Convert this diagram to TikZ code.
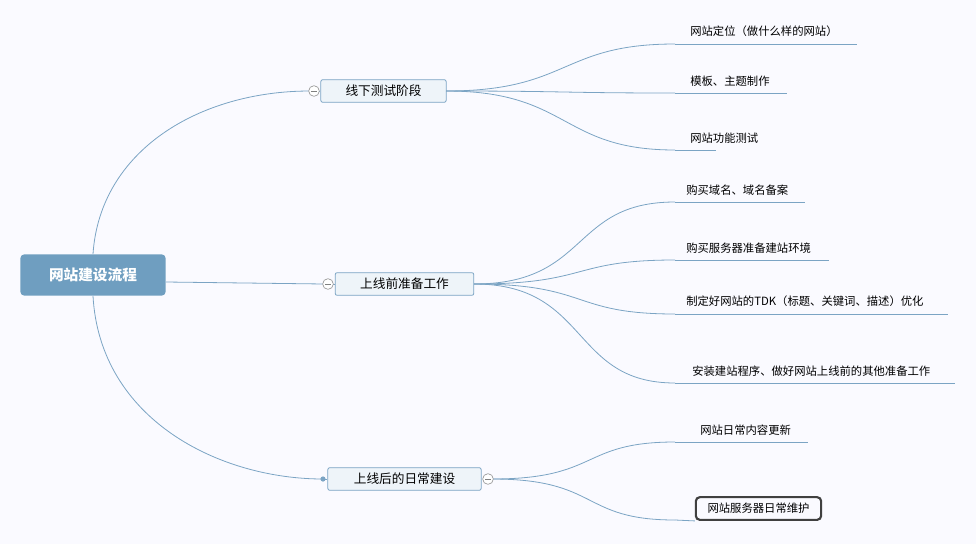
\documentclass[tikz,border=0pt]{standalone}
\usepackage{fontspec}
\setmainfont{Noto Sans CJK SC}
\begin{document}
\begin{tikzpicture}[x=0.75pt,y=-0.75pt,
  ln/.style={draw=lnc,line width=0.6pt},
  br/.style={draw=lnc,fill=brf,rounded corners=1.5pt,minimum height=17pt,inner xsep=0pt,font=\fontsize{9.5}{11}\selectfont,line width=0.6pt},
  lf/.style={anchor=south west,inner sep=0pt,font=\fontsize{8.5}{10}\selectfont,yshift=5pt},
  tg/.style={circle,draw=gray!80,fill=white,minimum size=8pt,inner sep=0pt,line width=0.5pt}]
\definecolor{lnc}{HTML}{7BA4C4}
\definecolor{brf}{HTML}{EEF4F9}
\definecolor{rootc}{HTML}{6F9EC0}
\fill[fill=white!98!blue] (0,0) rectangle (976,544);
\useasboundingbox (0,0) rectangle (976,544);
% root
\node[fill=rootc,rounded corners=3pt,minimum width=109pt,minimum height=31pt,text=white,font=\fontsize{11}{13}\selectfont\bfseries] (root) at (93,275) {网站建设流程};
% branches
\node[br,minimum width=94pt] (b1) at (383.5,91) {线下测试阶段};
\node[br,minimum width=104pt] (b2) at (404.5,284) {上线前准备工作};
\node[br,minimum width=115pt] (b3) at (404.5,479) {上线后的日常建设};
% root connectors
\coordinate (r1) at (93,254);
\coordinate (r3) at (93,296);
\coordinate (t1) at (310,91);
\coordinate (t2) at (324,284);
\coordinate (t3) at (323,479);
\draw[ln] (r1) .. controls (100,150) and (200,91) .. (t1);
\draw[ln] (r3) .. controls (100,420) and (220,479) .. (t3);
\draw[ln] (166,282) -- (t2);
\draw[ln] (t1) -- (b1.west);
\draw[ln] (t2) -- (b2.west);
\draw[ln] (t3) -- (b3.west);
\fill[lnc] (t3) circle (2.6);
% leaves
\foreach \n/\y/\xe/\t/\xt in {
 l1/44/857/网站定位（做什么样的网站）/690,
 l2/93/787/模板、主题制作/690,
 l3/150/716/网站功能测试/690,
 l4/202/805/购买域名、域名备案/686,
 l5/260/829/购买服务器准备建站环境/686,
 l6/314/948/制定好网站的TDK（标题、关键词、描述）优化/686,
 l7/383/955/安装建站程序、做好网站上线前的其他准备工作/692,
 l8/442/808/网站日常内容更新/700}{
 \coordinate (\n s) at (675,\y);
 \coordinate (\n e) at (\xe,\y);
 \draw[ln] (\n s) -- (\n e);
 \node[lf] (\n) at (\xt,\y) {\t};
}
\node[draw=black!75,line width=1.6pt,rounded corners=3pt,minimum width=94pt,minimum height=17pt,inner sep=0pt,font=\fontsize{8.5}{10}\selectfont] (l9) at (758.5,508.5) {网站服务器日常维护};
\coordinate (l9s) at (675,520);
\draw[ln] (l9s) -- (l9.south west);
% branch to leaves
\coordinate (o1) at (446,91);
\coordinate (o2) at (474,284);
\coordinate (o3) at (492,479);
\foreach \l in {l1,l2,l3}
  \draw[ln] (o1) .. controls (570,91) and (560,0|-\l s) .. (\l s);
\foreach \l in {l4,l5,l6,l7}
  \draw[ln] (o2) .. controls (590,284) and (570,0|-\l s) .. (\l s);
\foreach \l in {l8,l9}
  \draw[ln] (o3) .. controls (600,479) and (580,0|-\l s) .. (\l s);
% toggles
\node[tg] (c1) at (314,91) {}; \draw[gray] (311,91) -- (317,91);
\node[tg] (c2) at (328,284) {}; \draw[gray] (325,284) -- (331,284);
\node[tg] (c3) at (488,479) {}; \draw[gray] (485,479) -- (491,479);
\end{tikzpicture}
\end{document}
